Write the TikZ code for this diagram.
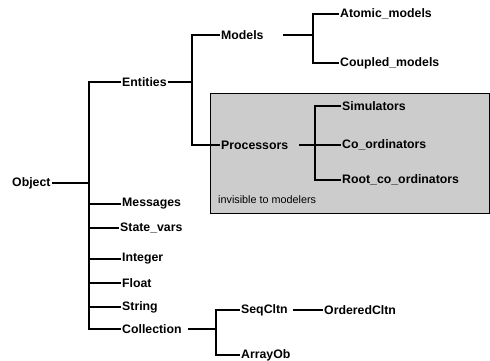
\documentclass[tikz,border=0pt]{standalone}
\usepackage{fontspec}
\setmainfont{Liberation Sans}
\tikzset{cls/.style={
    anchor=west,
    inner sep=1pt,
    font=\bfseries\fontsize{12.3}{14}\selectfont
  },
  note/.style={cls,font=\fontsize{10.8}{12}\selectfont},
  hidebox/.style={draw,thin,fill=black!20},
  link/.style={line width=1.5pt},
}
\begin{document}
\begin{tikzpicture}[x=1pt,y=-1pt]
  \useasboundingbox (0,0) rectangle (490,360);
  \draw[hidebox] (210,93) rectangle (489,213);
  \node [note] (hidden) at (217,200) {invisible to modelers};
  \node [cls] (object) at (11,183) {Object};
  \node [cls] (entities) at (121,82) {Entities};
  \node [cls] (models) at (220,35) {Models};
  \node [cls] (atomic) at (339,14) {Atomic\_models};
  \node [cls] (coupled) at (339,63) {Coupled\_models};
  \node [cls] (processors) at (220,145) {Processors};
  \node [cls] (simulators) at (341,106) {Simulators};
  \node [cls] (coord) at (341,145) {Co\_ordinators};
  \node [cls] (rootcoord) at (341,180) {Root\_co\_ordinators};
  \node [cls] (messages) at (121,204) {Messages};
  \node [cls] (statevars) at (119,228) {State\_vars};
  \node [cls] (integer) at (121,259) {Integer};
  \node [cls] (float) at (121,283) {Float};
  \node [cls] (string) at (121,307) {String};
  \node [cls] (collection) at (121,329) {Collection};
  \node [cls] (seqcltn) at (240,310) {SeqCltn};
  \node [cls] (orderedcltn) at (323,310) {OrderedCltn};
  \node [cls] (arrayob) at (240,355) {ArrayOb};
  \coordinate (objfork) at (89,183);
  \coordinate (entfork) at (192,82);
  \coordinate (modfork) at (313,35);
  \coordinate (procfork) at (315,145);
  \coordinate (colfork) at (216,329);
  % tree of Object
  \draw[link] (object) -- (objfork);
  \draw[link] (entities.west) -| (objfork) |- (collection.west);
  \foreach \n in {messages,statevars,integer,float,string}
    \draw[link] (\n.west) -- (\n.west -| objfork);
  % Entities
  \draw[link] (entities.east) -- (entfork);
  \draw[link] (models.west) -| (entfork) |- (processors.west);
  \draw[link] ([xshift=18pt]models.east) -- (modfork);
  \draw[link] (atomic.west) -| (modfork) |- (coupled.west);
  % Processors
  \draw[link] ([xshift=10pt]processors.east) -- (coord.west);
  \draw[link] (simulators.west) -| (procfork) |- (rootcoord.west);
  % Collection
  \draw[link] ([xshift=5pt]collection.east) -- (colfork);
  \draw[link] (seqcltn.west) -| (colfork) |- (arrayob.west);
  \draw[link] ([xshift=4pt]seqcltn.east) -- (orderedcltn.west);
\end{tikzpicture}
\end{document}
